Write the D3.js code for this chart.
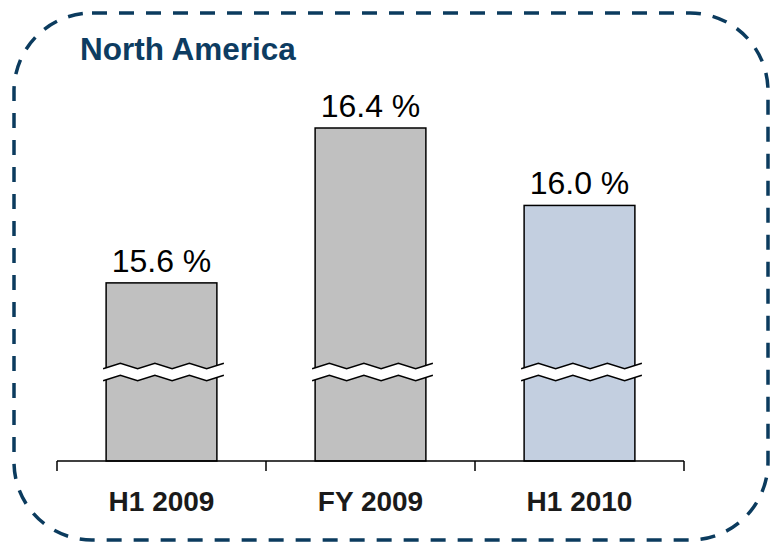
<!DOCTYPE html>
<html>
<head>
<meta charset="utf-8">
<script src="https://cdn.jsdelivr.net/npm/d3@7"></script>
<style>
  body { margin: 0; background: #fff; }
  text { font-family: Arial, "Liberation Sans", sans-serif; }
</style>
</head>
<body>
<svg id="chart" width="770" height="543"></svg>
<script>
// data
var categories = ['H1 2009', 'FY 2009', 'H1 2010'];
var values = [15.6, 16.4, 16.0];
var valueLabels = ['15.6 %', '16.4 %', '16.0 %'];
var barColors = ['#c0c0c0', '#c0c0c0', '#c3cfe0'];
var title = 'North America';
// axis is broken, bars start from this value
var axisBase = 14.68;
var breakValue = 15.15;

var svg = d3.select('#chart');

// dashed rounded frame
svg.append('rect')
    .attr('x', 14)
    .attr('y', 13)
    .attr('width', 754)
    .attr('height', 527)
    .attr('rx', 78)
    .attr('ry', 78)
    .style('fill', 'none')
    .style('stroke', '#0b3b5e')
    .style('stroke-width', 3.5)
    .style('stroke-dasharray', '15,12');

svg.append('text')
    .attr('x', 80)
    .attr('y', 60)
    .style('font-size', '31.5px')
    .style('font-weight', 'bold')
    .style('fill', '#0d3c61')
    .text(title);

var x = d3.scaleBand()
    .domain(categories)
    .range([57, 684])
    .paddingInner(0.47)
    .paddingOuter(0.235);

var y = d3.scaleLinear()
    .domain([axisBase, d3.max(values)])
    .range([461, 128]);

var bars = svg.append('g').selectAll('g')
        .data(categories)
    .enter().append('g');

bars.append('rect')
    .attr('x', function(d) { return x(d); })
    .attr('y', function(d, i) { return y(values[i]); })
    .attr('width', x.bandwidth())
    .attr('height', function(d, i) { return y(axisBase) - y(values[i]); })
    .style('fill', function(d, i) { return barColors[i]; })
    .style('stroke', '#000')
    .style('stroke-width', 1.5);

bars.append('text')
    .attr('x', function(d) { return x(d) + x.bandwidth() / 2; })
    .attr('y', function(d, i) { return y(values[i]) - 11; })
    .attr('text-anchor', 'middle')
    .style('font-size', '32px')
    .style('fill', '#000')
    .text(function(d, i) { return valueLabels[i]; });

// axis break zigzag, starts low, ends high
function zigzag(x0, x1, yc) {
    var pts = [];
    var n = 7;
    for (var i = 0; i <= n; i++) {
        var px = x0 + (x1 - x0) * i / n;
        pts.push([px, yc + (i % 2 === 0 ? 2.7 : -2.7)]);
    }
    return pts;
}

bars.each(function(d) {
    var g = d3.select(this);
    var yb = y(breakValue);
    var x0 = x(d) - 3, x1 = x(d) + x.bandwidth() + 7;
    var top = zigzag(x0, x1, yb - 4);
    var bot = zigzag(x0, x1, yb + 8);
    var line = d3.line();

    g.append('path')
        .attr('d', line(top.concat(bot.slice().reverse())) + 'Z')
        .style('fill', '#fff')
        .style('stroke', 'none');

    [top, bot].forEach(function(pts) {
        g.append('path')
            .attr('d', line(pts))
            .style('fill', 'none')
            .style('stroke', '#000')
            .style('stroke-width', 1.5);
    });
});

// category axis with ticks between groups
var axisG = svg.append('g');
var y0 = y(axisBase);
axisG.append('line')
    .attr('x1', 57).attr('x2', 684)
    .attr('y1', y0).attr('y2', y0)
    .style('stroke', '#000')
    .style('stroke-width', 1.5);

var bounds = d3.range(categories.length + 1).map(function(i) {
    return 57 + i * x.step();
});
axisG.selectAll('.tick')
        .data(bounds)
    .enter().append('line')
        .attr('class', 'tick')
        .attr('x1', function(d) { return d; })
        .attr('x2', function(d) { return d; })
        .attr('y1', y0)
        .attr('y2', y0 + 10)
        .style('stroke', '#000')
        .style('stroke-width', 1.5);

axisG.selectAll('.cat')
        .data(categories)
    .enter().append('text')
        .attr('class', 'cat')
        .attr('x', function(d) { return x(d) + x.bandwidth() / 2; })
        .attr('y', 511)
        .attr('text-anchor', 'middle')
        .style('font-size', '28px')
        .style('font-weight', 'bold')
        .style('fill', '#1a1a1a')
        .text(function(d) { return d; });
</script>
</body>
</html>
